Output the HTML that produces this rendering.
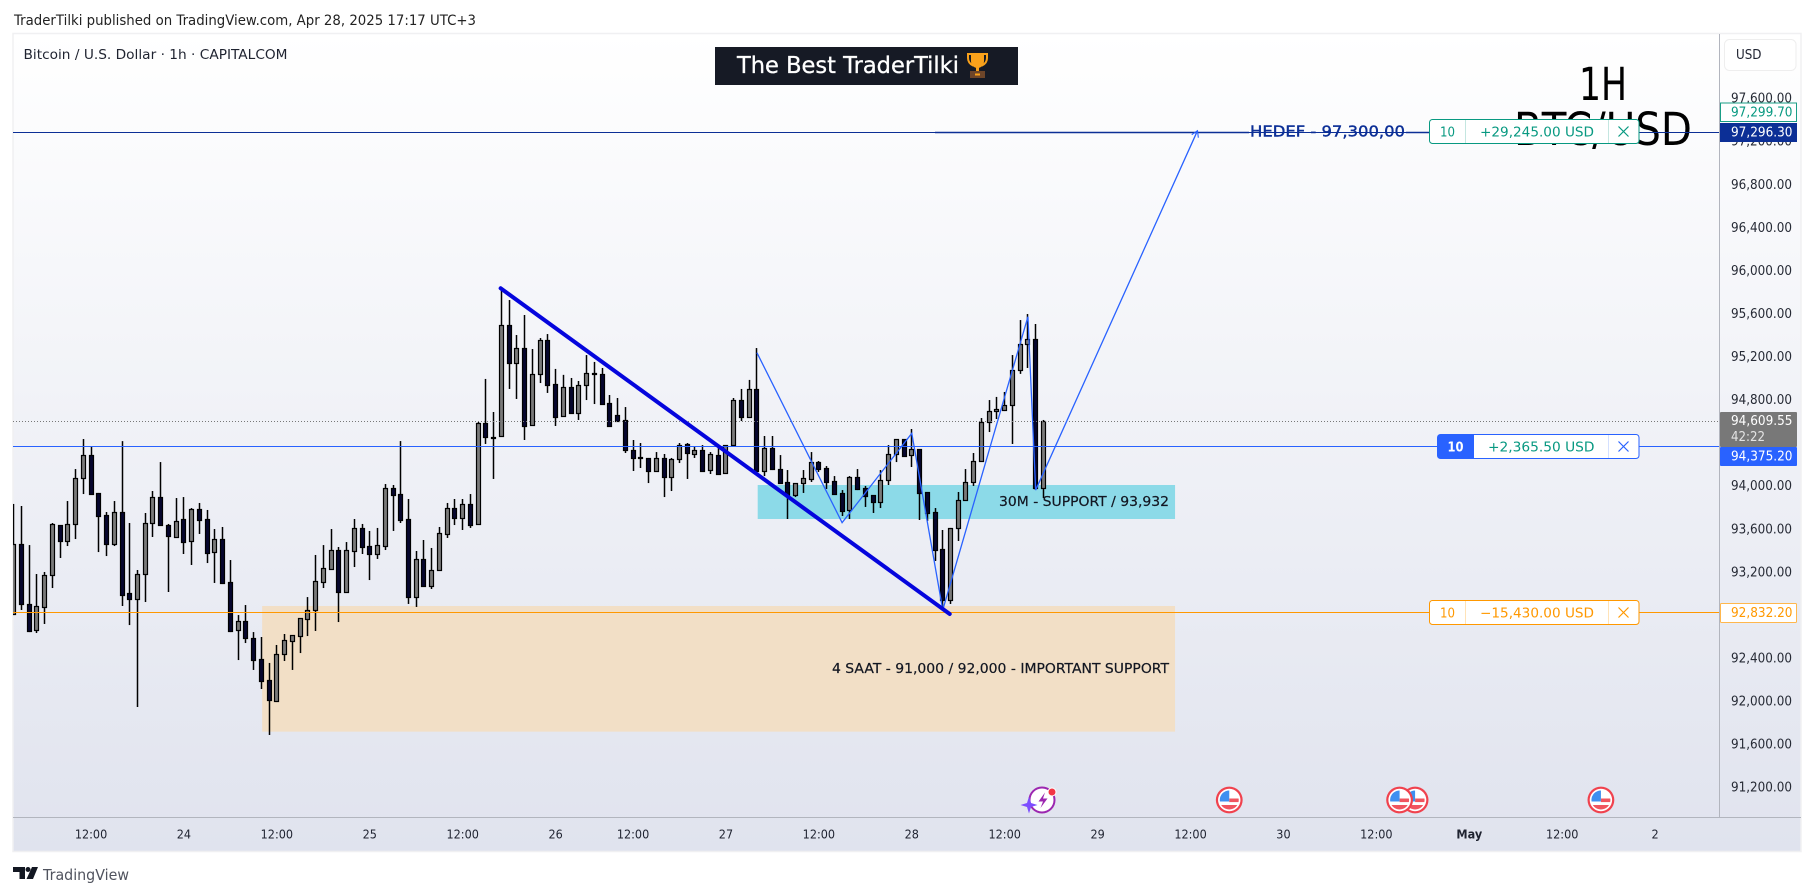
<!DOCTYPE html>
<html lang="en">
<head>
<meta charset="utf-8">
<title>Bitcoin / U.S. Dollar 1h</title>
<style>
html,body{margin:0;padding:0;background:#fff;width:1814px;height:896px;overflow:hidden}
svg{display:block}
text{font-family:"DejaVu Sans","Liberation Sans",sans-serif}
</style>
</head>
<body>
<svg id="chart" xmlns="http://www.w3.org/2000/svg" width="1814" height="896" viewBox="0 0 1814 896">
  <defs>
    <linearGradient id="bgGrad" x1="0" y1="0" x2="0" y2="1">
      <stop offset="0" stop-color="#ffffff"/>
      <stop offset="1" stop-color="#e0e3ee"/>
    </linearGradient>
    <clipPath id="paneClip"><rect x="13" y="34" width="1706.5" height="783"/></clipPath>
    <clipPath id="flagClip"><circle cx="0" cy="0" r="9.5"/></clipPath>
    <g id="flagIcon">
      <circle r="13.4" fill="#f0424e"/>
      <circle r="11.2" fill="#ffffff"/>
      <g clip-path="url(#flagClip)">
        <rect x="-10" y="-10" width="20" height="20" fill="#ffffff"/>
        <rect x="0" y="-1.5" width="10" height="3.6" fill="#f0555f"/>
        <rect x="-10" y="5" width="20" height="5" fill="#f0555f"/>
        <rect x="-10" y="-10" width="10" height="11.5" fill="#3f8ff0"/>
      </g>
    </g>
  </defs>

  <rect x="0" y="0" width="1814" height="896" fill="#ffffff"/>
  <text x="14" y="25" font-size="14" fill="#222" textLength="462" lengthAdjust="spacingAndGlyphs">TraderTilki published on TradingView.com, Apr 28, 2025 17:17 UTC+3</text>

  <rect x="13" y="33.5" width="1788" height="818" fill="url(#bgGrad)" stroke="#f0f0f2" stroke-width="1.5"/>

  <g id="zones"></g>

  <text x="1603" y="100" font-size="45" fill="#000" text-anchor="middle" textLength="48" lengthAdjust="spacingAndGlyphs">1H</text>
  <text x="1603" y="145" font-size="45" fill="#000" text-anchor="middle" textLength="178" lengthAdjust="spacingAndGlyphs">BTC/USD</text>

  <text x="23.5" y="59" font-size="13.5" fill="#1f2330" textLength="264" lengthAdjust="spacingAndGlyphs">Bitcoin / U.S. Dollar · 1h · CAPITALCOM</text>

  <g>
    <rect x="715" y="47" width="303" height="38" fill="#161a25"/>
    <text x="737" y="73" font-size="23" fill="#ffffff" stroke="#ffffff" stroke-width="0.3" textLength="222" lengthAdjust="spacingAndGlyphs">The Best TraderTilki</text>
    <g>
      <path d="M968 54h19v4c0 4-2 6-5 7.500h-9c-3-1.500-5-3.500-5-7.500z" fill="none" stroke="#f9a11b" stroke-width="2"/>
      <path d="M971 53h13v8c0 4-3 7-6.500 7s-6.500-3-6.500-7z" fill="#f9a11b"/>
      <rect x="976" y="67" width="3" height="5" fill="#f9a11b"/>
      <rect x="970" y="71" width="15" height="7" fill="#6d4529"/>
      <rect x="975" y="73.500" width="5" height="2" fill="#f9a11b"/>
    </g>
  </g>

  <g id="candles" clip-path="url(#paneClip)"></g>
  <g id="drawings" clip-path="url(#paneClip)"></g>

  <text x="1169" y="506" font-size="13.5" fill="#131722" stroke="#131722" stroke-width="0.2" text-anchor="end" textLength="170" lengthAdjust="spacingAndGlyphs">30M - SUPPORT / 93,932</text>
  <text x="1169" y="673" font-size="13.5" fill="#131722" stroke="#131722" stroke-width="0.2" text-anchor="end" textLength="337" lengthAdjust="spacingAndGlyphs">4 SAAT - 91,000 / 92,000 - IMPORTANT SUPPORT</text>
  <text x="1250" y="136.500" font-size="15" fill="#0c2f96" stroke="#0c2f96" stroke-width="0.4" textLength="155" lengthAdjust="spacingAndGlyphs">HEDEF - 97,300,00</text>

  <g>
    <rect x="1429.500" y="119.500" width="209.500" height="24" rx="3" fill="#ffffff" stroke="#089981"/>
    <line x1="1465.500" y1="120" x2="1465.500" y2="143" stroke="#c4e6e0"/>
    <line x1="1608.500" y1="120" x2="1608.500" y2="143" stroke="#c4e6e0"/>
    <text x="1440" y="136.500" font-size="13.500" fill="#089981" textLength="15" lengthAdjust="spacingAndGlyphs">10</text>
    <text x="1480" y="136.500" font-size="13.500" fill="#089981" textLength="114" lengthAdjust="spacingAndGlyphs">+29,245.00 USD</text>
    <path d="M1618.500 126.500l10 10m0-10l-10 10" stroke="#089981" stroke-width="1.2" fill="none"/>
  </g>

  <g>
    <rect x="1437.500" y="434.500" width="201.500" height="24" rx="3" fill="#ffffff" stroke="#2962ff"/>
    <path d="M1474 434.500h-33.500a3 3 0 0 0-3 3v18a3 3 0 0 0 3 3h33.500z" fill="#2962ff"/>
    <line x1="1608.500" y1="435" x2="1608.500" y2="458" stroke="#d4e0ff"/>
    <text x="1447.500" y="451.500" font-size="13.500" font-weight="bold" fill="#ffffff" textLength="16" lengthAdjust="spacingAndGlyphs">10</text>
    <text x="1488" y="451.500" font-size="13.500" fill="#089981" textLength="106.500" lengthAdjust="spacingAndGlyphs">+2,365.50 USD</text>
    <path d="M1618.500 441.500l10 10m0-10l-10 10" stroke="#2962ff" stroke-width="1.2" fill="none"/>
  </g>

  <g>
    <rect x="1429.500" y="600.500" width="209.500" height="24" rx="3" fill="#ffffff" stroke="#ff9800"/>
    <line x1="1465.500" y1="601" x2="1465.500" y2="624" stroke="#ffe3b8"/>
    <line x1="1608.500" y1="601" x2="1608.500" y2="624" stroke="#ffe3b8"/>
    <text x="1440" y="617.500" font-size="13.500" fill="#ff9800" textLength="15" lengthAdjust="spacingAndGlyphs">10</text>
    <text x="1480" y="617.500" font-size="13.500" fill="#ff9800" textLength="114" lengthAdjust="spacingAndGlyphs">−15,430.00 USD</text>
    <path d="M1618.500 607.500l10 10m0-10l-10 10" stroke="#ff9800" stroke-width="1.2" fill="none"/>
  </g>

  <line x1="1719.500" y1="34" x2="1719.500" y2="817" stroke="#b2b5be"/>
  <line x1="13" y1="817.500" x2="1801" y2="817.500" stroke="#b2b5be"/>

  <g id="priceAxis"></g>
  <g id="timeAxis"></g>
  <g id="events"></g>

  <g transform="translate(1042 800)">
    <circle r="12.500" fill="#ffffff" stroke="#9c27b0" stroke-width="2"/>
    <path d="M3-7.500l-6.500 9h4.500l-2.500 6.500 7-9.500h-4.500z" fill="#9c27b0"/>
    <path d="M-13-3.500l2 6.500 6.500 2-6.500 2-2 6.500-2-6.500-6.500-2 6.500-2z" fill="#7c4dff"/>
    <circle cx="10" cy="-8" r="4" fill="#f23645" stroke="#ffffff"/>
  </g>

  <g>
    <rect x="1724.500" y="39.500" width="71.500" height="31" rx="5" fill="#ffffff" stroke="#eeeeee"/>
    <text x="1736" y="59" font-size="13.500" fill="#1f2330" textLength="25.500" lengthAdjust="spacingAndGlyphs">USD</text>
  </g>

  <g>
    <rect x="1720.500" y="103" width="76" height="18.500" fill="#ffffff" stroke="#1a9e86"/>
    <text x="1792.500" y="116.500" font-size="13" fill="#089981" text-anchor="end" textLength="61.500" lengthAdjust="spacingAndGlyphs">97,299.70</text>
  </g>
  <g>
    <rect x="1720" y="123" width="77" height="19" fill="#0c2f96"/>
    <text x="1792.500" y="136.700" font-size="13" fill="#ffffff" text-anchor="end" textLength="61.500" lengthAdjust="spacingAndGlyphs">97,296.30</text>
  </g>
  <g>
    <rect x="1720" y="412" width="77" height="35" rx="1" fill="#787878"/>
    <text x="1792.500" y="425" font-size="13" fill="#ffffff" text-anchor="end" textLength="61.500" lengthAdjust="spacingAndGlyphs">94,609.55</text>
    <text x="1731" y="441" font-size="13" fill="#e4e4e4" textLength="34" lengthAdjust="spacingAndGlyphs">42:22</text>
  </g>
  <g>
    <rect x="1720" y="447" width="77" height="19" rx="1" fill="#2962ff"/>
    <text x="1792.500" y="460.500" font-size="13" fill="#ffffff" text-anchor="end" textLength="61.500" lengthAdjust="spacingAndGlyphs">94,375.20</text>
  </g>
  <g>
    <rect x="1720.500" y="603.500" width="76" height="19" rx="1" fill="#ffffff" stroke="#ffb74d"/>
    <text x="1792.500" y="617" font-size="13" fill="#ff9800" text-anchor="end" textLength="61.500" lengthAdjust="spacingAndGlyphs">92,832.20</text>
  </g>

  <g>
    <path d="M13 867h12v12h-5.500v-7H13z" fill="#131722"/>
    <circle cx="28" cy="869.500" r="2.500" fill="#131722"/>
    <path d="M32 867h6l-5 12h-6.500z" fill="#131722"/>
    <text x="43" y="880" font-size="15" fill="#50535e" textLength="86" lengthAdjust="spacingAndGlyphs">TradingView</text>
  </g>
</svg>

<script>
const opens = [92816,93466,92909,92667,92881,93178,93642,93494,93652,94079,
94292,93940,93735,93466,93763,93011,92955,93187,93661,93902,
93642,93531,93698,93494,93791,93698,93391,93512,93113,92667,
92751,92592,92398,92203,92008,92444,92565,92611,92769,92853,
93113,93234,93410,93020,93401,93615,93447,93373,93447,93986,
93930,93698,92973,93327,93076,93224,93559,93800,93707,93838,
93652,94590,94460,94469,95500,95147,95286,94571,95046,95361,
94952,94655,94924,94683,94943,95055,95046,94775,94664,94618,
94339,94274,94265,94144,94265,94088,94255,94395,94302,94339,
94153,94292,94125,94385,94803,94646,94906,94144,94357,94162,
94042,93921,94032,94070,94227,94172,94051,93940,93782,94088,
93986,93921,93856,94060,94302,94441,94292,94348,93949,93763,
93419,92946,93615,93875,94042,94237,94599,94701,94711,94757,
95082,95323,95370,93986];
const highs = [93838,93819,93456,93187,93206,93661,93642,93865,94162,94441,
94367,93940,93763,93865,94422,93661,93224,93754,93958,94227,
93652,93893,93902,93800,93847,93782,93605,93624,93317,92806,
92899,92648,92602,92361,92528,92630,92620,92778,92973,93364,
93456,93605,93438,93484,93698,93652,93587,93615,94023,94014,
94422,93884,93401,93503,93429,93624,93847,93884,93884,93930,
94599,94999,94692,95844,95732,95407,95593,95277,95379,95416,
95092,95037,95008,94980,95221,95157,95101,94850,94822,94738,
94432,94404,94265,94320,94302,94265,94404,94404,94367,94385,
94320,94367,94385,94822,94906,94990,95286,94469,94469,94292,
94153,94032,94153,94320,94237,94190,94097,93967,94097,94162,
94005,93921,94153,94385,94441,94441,94534,94348,93949,93800,
93596,93615,93949,94162,94311,94636,94803,94832,94878,95221,
95546,95602,95509,94618];
const lows = [92806,92853,92648,92639,92723,93057,93336,93447,93512,93930,
93930,93391,93354,93447,92890,92713,91952,92927,93531,93642,
93020,93531,93373,93271,93559,93289,93104,93094,92648,92388,
92546,92296,92119,91692,91998,92379,92296,92453,92611,92658,
93057,93234,92741,93020,93252,93373,93131,93327,93410,93587,
93661,92909,92881,93076,93048,93224,93522,93642,93596,93615,
93652,94395,94070,94469,94906,94813,94432,94571,94961,94869,
94562,94655,94683,94618,94803,94766,94757,94562,94608,94311,
94144,94172,94032,94144,93902,93958,94218,94070,94265,94135,
94116,94116,94125,94385,94608,94636,94107,94097,94153,94032,
93698,93902,93940,94042,94135,93977,93921,93726,93698,93967,
93810,93754,93800,94014,94227,94274,94181,93689,93680,93308,
92853,92909,93494,93875,94005,94237,94506,94627,94701,94395,
95046,95101,93967,93893];
const closes = [93466,92909,92658,92890,93178,93652,93494,93652,94079,94292,
93930,93726,93466,93763,92992,92955,93187,93661,93902,93642,
93540,93680,93484,93791,93689,93382,93512,93104,92658,92751,
92592,92388,92193,92017,92444,92574,92620,92778,92853,93122,
93243,93410,93020,93410,93615,93438,93373,93456,93986,93921,
93689,92973,93327,93076,93224,93568,93800,93707,93838,93642,
94590,94460,94450,95500,95147,95286,94562,95046,95361,94943,
94646,94924,94683,94943,95055,95046,94766,94562,94608,94339,
94265,94265,94144,94265,94088,94255,94385,94311,94339,94144,
94302,94116,94385,94803,94646,94906,94144,94357,94162,94032,
93921,94032,94079,94227,94162,94042,93930,93772,94088,93977,
93912,93856,94060,94302,94441,94283,94348,93940,93754,93410,
92946,93615,93875,94042,94237,94599,94701,94720,94757,95082,
95323,95370,93986,94609];

const priceTicks = [97600,97200,96800,96400,96000,95600,95200,94800,94400,94000,93600,93200,92800,92400,92000,91600,91200];
const timeTickBars = [10,22,34,46,58,70,80,92,104,116,128,140,152,164,176,188,200,212];
const timeTickLabels = ["12:00","24","12:00","25","12:00","26","12:00","27","12:00","28","12:00","29","12:00","30","12:00","May","12:00","2"];

const trendBars = [62.9,120.9];
const trendPrices = [95841,92816];
const zigzagBars = [96,107,116,120,131,132,152.9];
const zigzagPrices = [95243,93664,94494,92853,95577,93967,97305];

const minorZoneBars = [96.1,150];
const minorZonePrices = [94014,93698];
const majorZoneBars = [32.1,150];
const majorZonePrices = [92890,91723];

const lastPrice = 94609.55;
const positionPrice = 94375.2;
const stopPrice = 92832.2;
const targetPrice = 97296.3;
const eventBars = [157,181,179,205];

const SVG_NS = "http://www.w3.org/2000/svg";
function xScale(bar){ return 13.6 + 7.743 * bar; }
function yScale(price){ return 486.5 + (94000 - price) * 0.10766; }
function makeEl(tag, attrs, parent){
  const el = document.createElementNS(SVG_NS, tag);
  for (const k in attrs) el.setAttribute(k, attrs[k]);
  parent.appendChild(el);
  return el;
}
function fmtPrice(v){
  return v.toLocaleString("en-US",{minimumFractionDigits:2,maximumFractionDigits:2});
}

/* zones */
const zonesG = document.getElementById("zones");
const minorZone = makeEl("rect",{x:xScale(minorZoneBars[0]),y:yScale(minorZonePrices[0]),width:xScale(minorZoneBars[1])-xScale(minorZoneBars[0]),height:yScale(minorZonePrices[1])-yScale(minorZonePrices[0]),fill:"#8cdae8"},zonesG);


const majorZone = makeEl("rect",{x:xScale(majorZoneBars[0]),y:yScale(majorZonePrices[0]),width:xScale(majorZoneBars[1])-xScale(majorZoneBars[0]),height:yScale(majorZonePrices[1])-yScale(majorZonePrices[0]),fill:"#f2dfc6"},zonesG);



/* candles */
const candlesG = document.getElementById("candles");
for (let i = 0; i < opens.length; i++){
  const cx = Math.floor(xScale(i)) + 0.5;
  const up = closes[i] >= opens[i];
  const top = Math.round(yScale(Math.max(opens[i],closes[i]))) + 0.5;
  const bot = Math.round(yScale(Math.min(opens[i],closes[i]))) + 0.5;
  const g = makeEl("g",{},candlesG);
  
  
  makeEl("line",{x1:cx,x2:cx,y1:yScale(highs[i]),y2:yScale(lows[i]),stroke:"#000","stroke-width":1.5},g);
  makeEl("rect",{x:cx-2,y:top,width:4,height:Math.max(bot-top,1),fill:up?"#7a7a7a":"#06062e",stroke:"#000","stroke-width":1.2},g);
}

/* horizontal lines and drawings */
const drawG = document.getElementById("drawings");
const lastLine = makeEl("line",{x1:13,x2:1719,y1:Math.round(yScale(lastPrice))+0.5,y2:Math.round(yScale(lastPrice))+0.5,stroke:"#787878","stroke-width":1,"stroke-dasharray":"1 2"},drawG);


const posLine = makeEl("line",{x1:13,x2:1719,y1:Math.round(yScale(positionPrice))+0.5,y2:Math.round(yScale(positionPrice))+0.5,stroke:"#2962ff","stroke-width":1},drawG);


const stopLine = makeEl("line",{x1:13,x2:1719,y1:Math.round(yScale(stopPrice))+0.5,y2:Math.round(yScale(stopPrice))+0.5,stroke:"#ff9800","stroke-width":1},drawG);


const targetLine = makeEl("line",{x1:13,x2:1719,y1:Math.round(yScale(targetPrice))+0.5,y2:Math.round(yScale(targetPrice))+0.5,stroke:"#0c2f96","stroke-width":1},drawG);


const targetTextLine = makeEl("line",{x1:935,x2:1249,y1:Math.round(yScale(targetPrice))+0.5,y2:Math.round(yScale(targetPrice))+0.5,stroke:"#0c2f96","stroke-width":1.6},drawG);


const targetTextLine2 = makeEl("line",{x1:1406,x2:1430,y1:Math.round(yScale(targetPrice))+0.5,y2:Math.round(yScale(targetPrice))+0.5,stroke:"#0c2f96","stroke-width":1.6},drawG);



const zzPoints = zigzagBars.map((b,i)=>xScale(b)+","+yScale(zigzagPrices[i])).join(" ");
const zz = makeEl("polyline",{points:zzPoints,fill:"none",stroke:"#2962ff","stroke-width":1.3},drawG);



const n = zigzagBars.length - 1;
const ex = xScale(zigzagBars[n]), ey = yScale(zigzagPrices[n]);
const ang = Math.atan2(ey - yScale(zigzagPrices[n-1]), ex - xScale(zigzagBars[n-1]));
const headPts = [ang+2.6, null, ang-2.6].map(a => a===null ? ex+","+ey : (ex+7*Math.cos(a))+","+(ey+7*Math.sin(a))).join(" ");
const head = makeEl("polyline",{points:headPts,fill:"none",stroke:"#2962ff","stroke-width":1.1},drawG);



const trend = makeEl("line",{x1:xScale(trendBars[0]),y1:yScale(trendPrices[0]),x2:xScale(trendBars[1]),y2:yScale(trendPrices[1]),stroke:"#0505dd","stroke-width":4,"stroke-linecap":"round"},drawG);



/* price axis */
const pAxis = document.getElementById("priceAxis");
priceTicks.forEach(function(p){
  const t = makeEl("text",{x:1792,y:yScale(p)+3.7,"font-size":13,fill:"#262a35","text-anchor":"end",lengthAdjust:"spacingAndGlyphs"},pAxis);
  
  
  t.textContent = fmtPrice(p);
  t.setAttribute("textLength", 61);
});

/* time axis */
const tAxis = document.getElementById("timeAxis");
timeTickBars.forEach(function(b,i){
  const label = timeTickLabels[i];
  const t = makeEl("text",{x:xScale(b),y:838.5,"font-size":12.5,fill:"#1f2330","text-anchor":"middle","font-weight":label==="May"?"bold":"normal",lengthAdjust:"spacingAndGlyphs"},tAxis);
  
  
  t.textContent = label;
  t.setAttribute("textLength", (t.getComputedTextLength()*0.9).toFixed(1));
});

/* economic events */
const evG = document.getElementById("events");
eventBars.forEach(function(b){
  const u = makeEl("use",{href:"#flagIcon",transform:"translate("+xScale(b)+" 800)"},evG);
  
  
});
</script>
</body>
</html>
